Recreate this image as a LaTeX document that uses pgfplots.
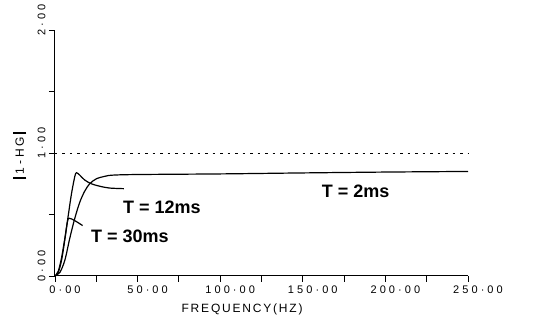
\documentclass[border=0pt]{standalone}
\usepackage{fontspec}
\setmainfont{Liberation Sans}
\usepackage{pgfplots}
\pgfplotsset{compat=1.18}
\newfontfamily\tickfont[LetterSpace=28]{Liberation Sans}
\newfontfamily\labfont[LetterSpace=15]{Liberation Sans}
\newfontfamily\ylabfont[LetterSpace=25]{Liberation Sans}
\begin{document}
\begin{tikzpicture}
\begin{axis}[
  scale only axis,
  width=413pt, height=246pt,
  xmin=0, xmax=250, ymin=0, ymax=2,
  axis x line=bottom, axis y line=left,
  axis line style={-, line width=1pt},
  tick align=outside,
  major tick length=6pt,
  tick style={line width=0.9pt, black},
  xtick={0,25,...,250},
  xticklabels={0·00,,50·00,,100·00,,150·00,,200·00,,250·00},
  ytick={0,0.5,...,2},
  yticklabels={0·00,,1·00,,2·00},
  xticklabel style={font=\tickfont\fontsize{11}{13}\selectfont, xshift=10pt},
  yticklabel style={font=\tickfont\fontsize{11}{13}\selectfont, rotate=90, anchor=south, xshift=10pt},
  xlabel={\labfont\fontsize{12}{14}\selectfont FREQUENCY(HZ)},
  xlabel style={at={(axis description cs:0.453,0)}, anchor=center, yshift=-33pt},
  ylabel={\ylabfont\fontsize{12}{14}\selectfont\rule[-2.5pt]{2pt}{13pt}\,1-HG\kern2.5pt\rule[-2.5pt]{2pt}{13pt}},
  ylabel style={at={(axis description cs:0,0.49)}, anchor=center, yshift=35pt},
  clip=false,
]
\addplot[black, line width=0.8pt, dash pattern=on 2.5pt off 5pt] coordinates {(0,1) (250,1)};
% T = 2ms
\addplot[black, line width=1.2pt, smooth] coordinates {
(0,0) (3,0.03) (6,0.13) (9,0.31) (12,0.47) (15,0.6) (18,0.69) (21,0.75) (25,0.79) (30,0.81) (35,0.82) (50,0.825) (100,0.83) (150,0.838) (200,0.845) (250,0.85)};
% T = 12ms
\addplot[black, line width=1.2pt, smooth] coordinates {
(0,0) (2,0.03) (4,0.13) (6,0.3) (8,0.49) (10,0.67) (12,0.81) (13,0.84) (15,0.82) (18,0.78) (22,0.75) (27,0.73) (33,0.715) (41.7,0.71)};
% T = 30ms
\addplot[black, line width=1.2pt, smooth] coordinates {
(0,0) (2,0.04) (4,0.15) (6,0.31) (7.5,0.44) (8.5,0.47) (12,0.45) (16.7,0.41)};
\node[font=\bfseries\fontsize{18}{20}\selectfont] at (axis cs:64.7,0.56) {T = 12ms};
\node[font=\bfseries\fontsize{18}{20}\selectfont] at (axis cs:45.4,0.32) {T = 30ms};
\node[font=\bfseries\fontsize{18}{20}\selectfont] at (axis cs:182,0.69) {T = 2ms};
\coordinate (bl) at (rel axis cs:0,0);
\coordinate (tr) at (rel axis cs:1,1);
\end{axis}
\path[use as bounding box] ([shift={(-55pt,-47pt)}]bl) rectangle ([shift={(65pt,30pt)}]tr);
\end{tikzpicture}
\end{document}
